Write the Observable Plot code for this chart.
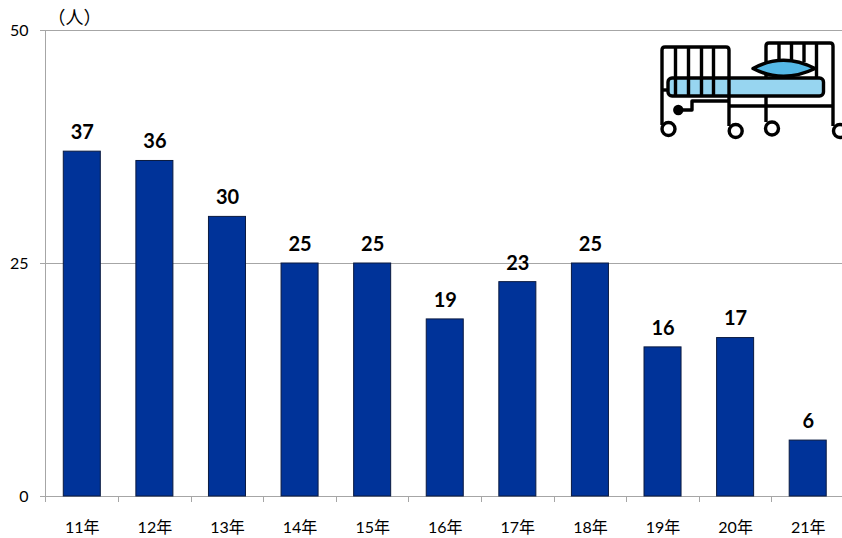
<!DOCTYPE html>
<html>
<head>
<meta charset="utf-8">
<script src="https://cdn.jsdelivr.net/npm/d3@7"></script>
<script src="https://cdn.jsdelivr.net/npm/@observablehq/plot@0.6"></script>
<style>
  html, body { margin: 0; padding: 0; background: #fff; overflow: hidden; }
  svg { display: block; }
</style>
</head>
<body>
<div id="chart"></div>
<script>
const years = ["11年", "12年", "13年", "14年", "15年", "16年", "17年", "18年", "19年", "20年", "21年"];
const counts = [37, 36, 30, 25, 25, 19, 23, 25, 16, 17, 6];
const yTicks = [0, 25, 50];
const unitLabel = "（人）";

const table = years.map((year, i) => ({year, count: counts[i]}));
const gray = "#a6a6a6";
const font = "Lato, 'Noto Sans CJK JP', sans-serif";

// Category boundary ticks below the baseline
function boundaryTicks(index, {x, y}) {
  const g = d3.create("svg:g").attr("stroke", gray).attr("stroke-width", 1);
  const step = x.step();
  years.forEach((year, i) => {
    const px = Math.round(x(year) + x.bandwidth() / 2 - step / 2) + 0.5;
    g.append("line").attr("x1", px).attr("x2", px).attr("y1", y(0)).attr("y2", y(0) + 6);
  });
  return g.node();
}

// Hospital bed pictogram in the top right corner
function bedIcon() {
  const g = d3.create("svg:g")
    .attr("fill", "none").attr("stroke", "#000").attr("stroke-width", 3.4)
    .attr("stroke-linejoin", "round");
  g.append("rect").attr("x", 668).attr("y", 78).attr("width", 155.5).attr("height", 18).attr("rx", 4).attr("fill", "#97d5f0");
  const paths = [
    "M662 125V50Q662 47 665 47H726Q729 47 729 50V126",
    "M675.5 47V95M688.5 47V95M701.5 47V95M713.5 47V95",
    "M662 90H668",
    "M766 78V46Q766 43 769 43H830Q833 43 833 46V126",
    "M779 43V64M791.5 43V62M804 43V62M816.5 43V78",
    "M729 106H833M766 96V122",
    "M729 101H692V110H678"
  ];
  paths.forEach(d => g.append("path").attr("d", d));
  g.append("path")
    .attr("d", "M753 68.5Q783 52 815 68.5Q783 84 753 68.5Z")
    .attr("fill", "#55b8e6");
  g.append("circle").attr("cx", 678.3).attr("cy", 110).attr("r", 3.5).attr("fill", "#000");
  [[668.5, 129], [735.7, 131], [772, 128.5], [840, 131]].forEach(([cx, cy]) =>
    g.append("circle").attr("cx", cx).attr("cy", cy).attr("r", 6.5).attr("fill", "#fff"));
  return g.node();
}

const chart = Plot.plot({
  width: 842,
  height: 538,
  marginLeft: 45,
  marginRight: 0,
  marginTop: 30,
  marginBottom: 42,
  style: {background: "#fff", color: "#000", overflow: "hidden"},
  x: {domain: years, range: [45.5, 844], round: false, paddingInner: 0.49, paddingOuter: 0.245, align: 0.5, label: null},
  y: {domain: [0, 50], label: null},
  marks: [
    Plot.ruleY(yTicks, {stroke: gray, strokeWidth: 1}),
    Plot.frame({anchor: "left", stroke: gray, strokeWidth: 1}),
    Plot.barY(table, {x: "year", y: "count", fill: "#003399", stroke: "#0a1a40", strokeWidth: 1}),
    Plot.text(table, {
      x: "year", y: "count", text: d => String(d.count), dy: -19,
      fontFamily: font, fontWeight: 700, fontSize: 20, fill: "#000"
    }),
    boundaryTicks,
    Plot.axisY({
      ticks: yTicks, tickSize: 5, tickPadding: 12, label: null, stroke: gray,
      fontFamily: font, fontSize: 16, fill: "#000"
    }),
    Plot.axisX({
      tickSize: 0, tickPadding: 25, label: null,
      fontFamily: font, fontSize: 16, fill: "#000"
    }),
    Plot.text([unitLabel], {
      frameAnchor: "top-left", text: d => d, dx: 29, dy: -19, lineAnchor: "top", textAnchor: "middle",
      fontFamily: font, fontSize: 18, fill: "#000"
    }),
    bedIcon
  ]
});
document.getElementById("chart").append(chart);
</script>
</body>
</html>
